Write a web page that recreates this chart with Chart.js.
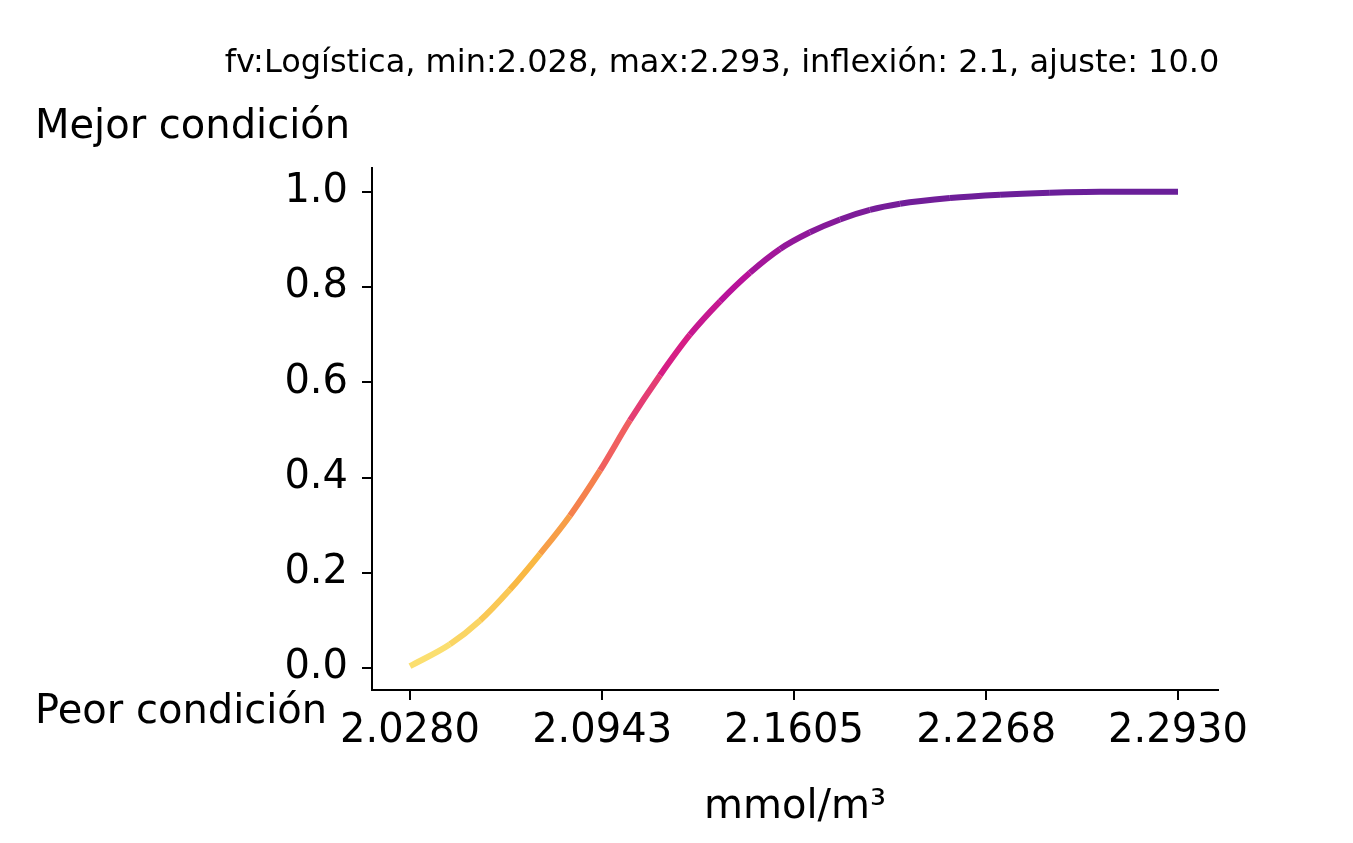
<!DOCTYPE html>
<html><head><meta charset="utf-8">
<script src="https://cdn.jsdelivr.net/npm/chart.js@4/dist/chart.umd.min.js"></script>
<style>html,body{margin:0;background:#fff}#c{display:block}</style>
</head><body>
<canvas id="c" width="1353" height="843"></canvas>
<script>
// values
const xValues = [2.028, 2.0418, 2.0522, 2.0625, 2.0729, 2.0832, 2.0936, 2.1039, 2.1143, 2.1246, 2.1350, 2.1453, 2.1557, 2.1660, 2.1764, 2.1867, 2.1971, 2.2143, 2.2316, 2.2488, 2.2661, 2.293];
const yValues = [0.004, 0.05, 0.10, 0.165, 0.24, 0.32, 0.415, 0.52, 0.615, 0.70, 0.77, 0.83, 0.88, 0.915, 0.942, 0.962, 0.975, 0.987, 0.994, 0.998, 1.0, 1.0];
const xTicks = [2.028, 2.0943, 2.1605, 2.2268, 2.293];
const yTicks = [0, 0.2, 0.4, 0.6, 0.8, 1.0];

// reversed plasma-ish colours by y
const stops = [[0,'#fbe577'],[0.2,'#f9b943'],[0.35,'#f6874a'],[0.5,'#ee5566'],[0.65,'#d81f84'],[0.8,'#b8129a'],[1,'#6a1f99']];
function hex(h){return [1,3,5].map(i=>parseInt(h.substr(i,2),16));}
function colourAt(v){
  for(let i=1;i<stops.length;i++){
    if(v<=stops[i][0]){
      const t=(v-stops[i-1][0])/(stops[i][0]-stops[i-1][0]);
      const a=hex(stops[i-1][1]),b=hex(stops[i][1]);
      return 'rgb('+a.map((c,k)=>Math.round(c+(b[k]-c)*t)).join(',')+')';
    }
  }
  return stops[stops.length-1][1];
}

const textPlugin = {
  id:'texts',
  afterDraw(chart){
    const ctx=chart.ctx;
    ctx.save();
    ctx.fillStyle='#000';
    ctx.textBaseline='middle';
    ctx.font='32px "DejaVu Sans"';
    ctx.textAlign='center';
    ctx.fillText('fv:Logística, min:2.028, max:2.293, inflexión: 2.1, ajuste: 10.0',722,64);
    ctx.font='40px "DejaVu Sans"';
    ctx.textAlign='left';
    ctx.fillText('Mejor condición',35,128);
    ctx.fillText('Peor condición',35,713);
    ctx.textAlign='center';
    ctx.fillText('mmol/m³',795,808);
    ctx.restore();
  }
};

new Chart(document.getElementById('c'),{
  type:'line',
  data:{datasets:[{
    data:xValues.map((x,i)=>({x:x,y:yValues[i]})),
    borderWidth:6,
    pointRadius:0,
    cubicInterpolationMode:'monotone',
    segment:{borderColor:c=>colourAt((c.p0.parsed.y+c.p1.parsed.y)/2)}
  }]},
  options:{
    responsive:false,
    animation:false,
    layout:{padding:{top:168,right:135,left:0,bottom:0}},
    plugins:{legend:{display:false},tooltip:{enabled:false}},
    scales:{
      x:{
        type:'linear',min:2.0149,max:2.3068,
        afterBuildTicks:s=>{s.ticks=xTicks.map(v=>({value:v}));},
        afterFit:s=>{s.height=153;},
        border:{color:'#000',width:2},
        grid:{drawOnChartArea:false,color:'#000',lineWidth:2,tickLength:10},
        ticks:{color:'#000',font:{family:'DejaVu Sans',size:40},padding:8,maxRotation:0,callback:v=>v.toFixed(4)}
      },
      y:{
        min:-0.046,max:1.05,
        afterBuildTicks:s=>{s.ticks=yTicks.map(v=>({value:v}));},
        afterFit:s=>{s.width=372;},
        border:{color:'#000',width:2},
        grid:{drawOnChartArea:false,color:'#000',lineWidth:2,tickLength:10},
        ticks:{color:'#000',font:{family:'DejaVu Sans',size:40},padding:14,callback:v=>v.toFixed(1)}
      }
    }
  },
  plugins:[textPlugin]
});
</script>
</body></html>
